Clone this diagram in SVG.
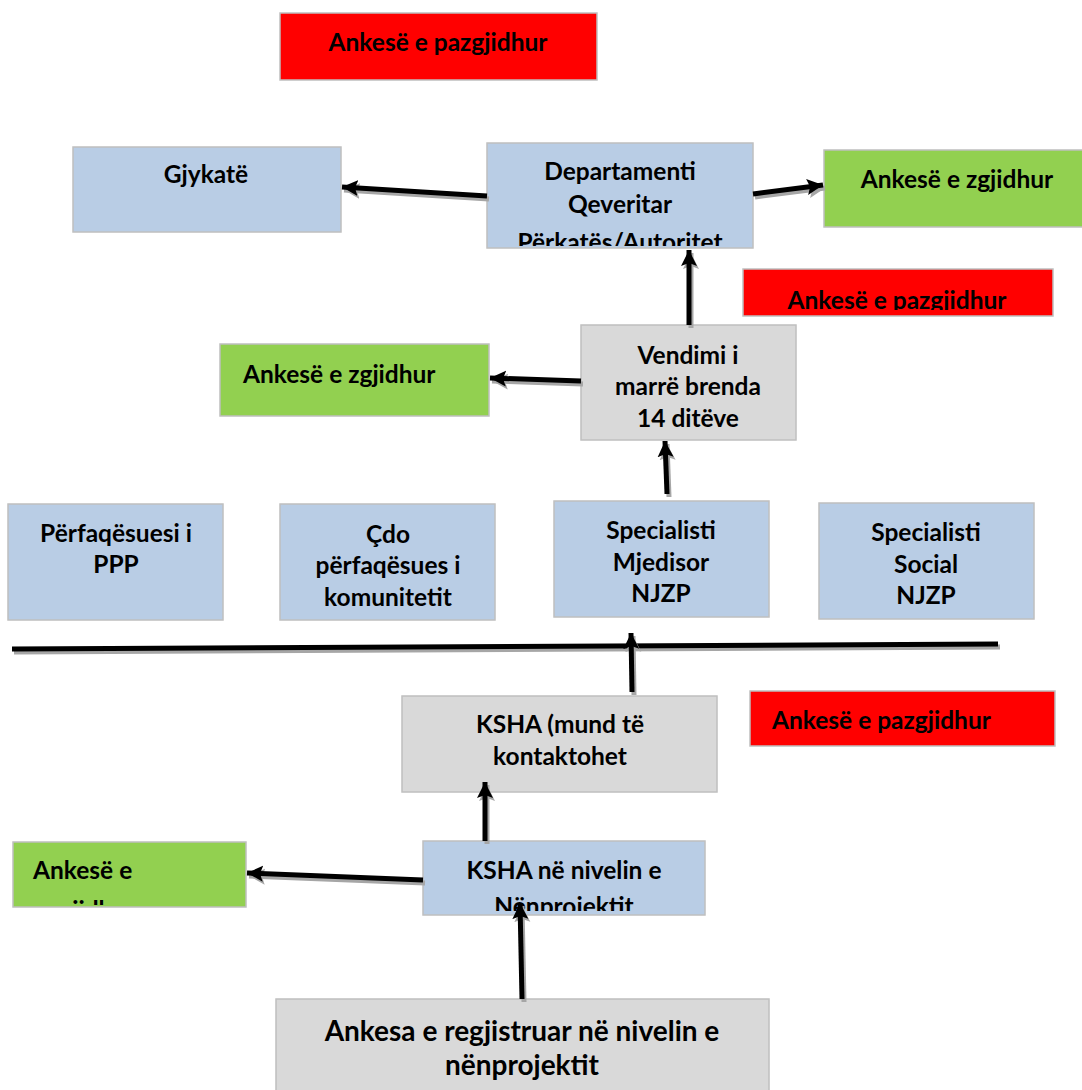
<svg xmlns="http://www.w3.org/2000/svg" width="1082" height="1090" viewBox="0 0 1082 1090">
<style>
.box{stroke:#bfbfbf;stroke-width:1.5}
.blue{fill:#b9cde5}
.gray{fill:#d9d9d9}
.green{fill:#92d050}
.red{fill:#ff0000}
text{font-family:Lato,"Liberation Sans",sans-serif;font-weight:bold;font-size:24.5px;fill:#000}
.c{text-anchor:middle}
.big{font-size:28px}
.ln{stroke:#000;stroke-width:5;fill:none;marker-end:url(#ah)}
.sh{stroke:#a6a6a6;stroke-width:5;fill:none;marker-end:url(#ahs)}
</style>
<defs>
<marker id="ah" markerUnits="userSpaceOnUse" markerWidth="18" markerHeight="18" viewBox="0 0 18 18" refX="16" refY="9" orient="auto"><path d="M0,1 L16,9 L0,17 L3,9 Z" fill="#000"/></marker>
<marker id="ahs" markerUnits="userSpaceOnUse" markerWidth="18" markerHeight="18" viewBox="0 0 18 18" refX="16" refY="9" orient="auto"><path d="M0,1 L16,9 L0,17 L3,9 Z" fill="#a6a6a6"/></marker>
<clipPath id="cDep"><rect x="487" y="143" width="266" height="103"/></clipPath>
<clipPath id="cRed2"><rect x="743" y="269" width="310" height="41"/></clipPath>
<clipPath id="cKsha"><rect x="402" y="696" width="315" height="96"/></clipPath>
<clipPath id="cKn"><rect x="423" y="841" width="282" height="70"/></clipPath>
<clipPath id="cG3"><rect x="13" y="842" width="233" height="63"/></clipPath>
</defs>

<g id="n-red-top"><rect class="box red" x="280" y="13" width="317" height="67"/><text class="c" x="438" y="51">Ankesë e pazgjidhur</text></g>
<g id="n-gjykate"><rect class="box blue" x="73" y="147" width="268" height="85"/><text class="c" x="206" y="183">Gjykatë</text></g>
<g id="n-dep"><rect class="box blue" x="487" y="143" width="266" height="105"/><g clip-path="url(#cDep)"><text class="c" x="620" y="180">Departamenti</text><text class="c" x="620" y="213">Qeveritar</text><text class="c" x="620" y="251">Përkatës/Autoritet</text></g></g>
<g id="n-green-right"><rect class="box green" x="824" y="150" width="262" height="77"/><text class="c" x="957" y="188">Ankesë e zgjidhur</text></g>
<g id="n-red-mid"><rect class="box red" x="743" y="269" width="310" height="47"/><g clip-path="url(#cRed2)"><text class="c" x="897" y="309">Ankesë e pazgjidhur</text></g></g>
<g id="n-vendimi"><rect class="box gray" x="581" y="325" width="215" height="115"/><text class="c" x="688" y="364">Vendimi i</text><text class="c" x="688" y="395">marrë brenda</text><text class="c" x="688" y="427">14 ditëve</text></g>
<g id="n-green-mid"><rect class="box green" x="220" y="344" width="269" height="72"/><text x="243" y="383">Ankesë e zgjidhur</text></g>
<g id="n-ppp"><rect class="box blue" x="8" y="504" width="215" height="116"/><text class="c" x="116" y="542">Përfaqësuesi i</text><text class="c" x="116" y="573">PPP</text></g>
<g id="n-cdo"><rect class="box blue" x="280" y="504" width="215" height="116"/><text class="c" x="388" y="543">Çdo</text><text class="c" x="388" y="574">përfaqësues i</text><text class="c" x="388" y="606">komunitetit</text></g>
<g id="n-mjedisor"><rect class="box blue" x="554" y="501" width="215" height="116"/><text class="c" x="661" y="539">Specialisti</text><text class="c" x="661" y="571">Mjedisor</text><text class="c" x="661" y="602">NJZP</text></g>
<g id="n-social"><rect class="box blue" x="819" y="503" width="215" height="116"/><text class="c" x="926" y="541">Specialisti</text><text class="c" x="926" y="573">Social</text><text class="c" x="926" y="604">NJZP</text></g>
<g id="n-ksha"><rect class="box gray" x="402" y="696" width="315" height="96"/><g clip-path="url(#cKsha)"><text class="c" x="560" y="733">KSHA (mund të</text><text class="c" x="560" y="765">kontaktohet</text></g></g>
<g id="n-red-bot"><rect class="box red" x="750" y="691" width="305" height="55"/><text x="772" y="729">Ankesë e pazgjidhur</text></g>
<g id="n-ksha-niv"><rect class="box blue" x="423" y="841" width="282" height="74"/><g clip-path="url(#cKn)"><text class="c" x="564" y="879">KSHA në nivelin e</text><text class="c" x="564" y="915">Nënprojektit</text></g></g>
<g id="n-green-bot"><rect class="box green" x="13" y="842" width="233" height="65"/><g clip-path="url(#cG3)"><text x="33" y="879">Ankesë e</text><text x="48" y="919">zgjidhur</text></g></g>
<g id="n-reg"><rect class="box gray" x="276" y="999" width="493" height="95"/><text class="c big" x="522" y="1041">Ankesa e regjistruar në nivelin e</text><text class="c big" x="522" y="1075">nënprojektit</text></g>

<g id="connectors">
<line x1="14" y1="652" x2="1000" y2="647" stroke="#a6a6a6" stroke-width="5"/>
<line x1="12" y1="649" x2="998" y2="644" stroke="#000" stroke-width="5"/>
<g transform="translate(2,3)">
<path class="sh" d="M487,196 L342,187"/>
<path class="sh" d="M753,194 L823,185"/>
<path class="sh" d="M689,325 L689,250"/>
<path class="sh" d="M581,381 L490,378"/>
<path class="sh" d="M667,494 L665,441"/>
<path class="sh" d="M632,692 L631,633"/>
<path class="sh" d="M485,841 L485,782"/>
<path class="sh" d="M423,880 L247,873"/>
<path class="sh" d="M522,999 L520,903"/>
</g>
<path class="ln" d="M487,196 L342,187"/>
<path class="ln" d="M753,194 L823,185"/>
<path class="ln" d="M689,325 L689,250"/>
<path class="ln" d="M581,381 L490,378"/>
<path class="ln" d="M667,494 L665,441"/>
<path class="ln" d="M632,692 L631,633"/>
<path class="ln" d="M485,841 L485,782"/>
<path class="ln" d="M423,880 L247,873"/>
<path class="ln" d="M522,999 L520,903"/>
</g>
</svg>
